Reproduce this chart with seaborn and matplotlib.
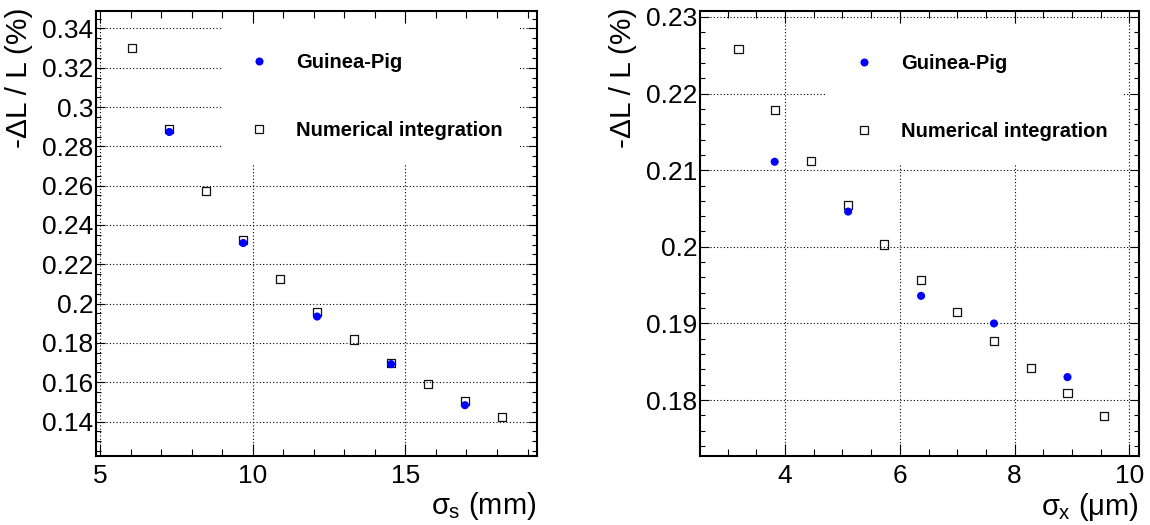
import matplotlib
matplotlib.use("Agg")
import matplotlib.pyplot as plt
from matplotlib.ticker import MultipleLocator, FuncFormatter
from matplotlib.patches import Rectangle
from matplotlib.lines import Line2D
import seaborn as sns
import pandas as pd

# ---------------- data ----------------
sigma_s_num = [6.06, 7.27, 8.48, 9.69, 10.90, 12.11, 13.32, 14.53, 15.74, 16.95, 18.16]
lumi_s_num = [0.3302, 0.2888, 0.2571, 0.2325, 0.2124, 0.1958, 0.1817, 0.1698, 0.1593, 0.1503, 0.1424]
sigma_s_gp = [7.27, 9.69, 12.11, 14.53, 16.95]
lumi_s_gp = [0.2873, 0.2308, 0.1934, 0.1692, 0.1483]

sigma_x_num = [3.19, 3.82, 4.46, 5.10, 5.73, 6.37, 7.00, 7.64, 8.28, 8.92, 9.55]
lumi_x_num = [0.2258, 0.2179, 0.2112, 0.2055, 0.2003, 0.1957, 0.1915, 0.1877, 0.1842, 0.1809, 0.1779]
sigma_x_gp = [3.82, 5.10, 6.37, 7.64, 8.92]
lumi_x_gp = [0.2111, 0.2046, 0.1936, 0.1900, 0.1830]

legend_labels = ["Guinea-Pig", "Numerical integration"]
ylabel_text = "-\u0394L / L (%)"
xlabel_left = r"$\sigma_{\mathrm{s}}$ (mm)"
xlabel_right = r"$\sigma_{\mathrm{x}}$ ($\mathrm{\mu}$m)"

# ---------------- style ----------------
sns.set_style("ticks")
plt.rcParams["font.family"] = ["Liberation Sans", "DejaVu Sans"]
plt.rcParams["mathtext.fontset"] = "custom"
plt.rcParams["mathtext.rm"] = "Liberation Sans"
plt.rcParams["mathtext.it"] = "Liberation Sans"
plt.rcParams["mathtext.bf"] = "Liberation Sans:bold"
plt.rcParams["axes.axisbelow"] = True
for key in ["text.color", "axes.labelcolor", "xtick.color", "ytick.color",
            "xtick.labelcolor", "ytick.labelcolor"]:
    plt.rcParams[key] = "black"

BLUE = "#0000ff"
TICK_FS = 19
XLABEL_FS = 21
YLABEL_FS = 21.5
LEG_FS = 14.5

fig = plt.figure(figsize=(11.5, 5.25), dpi=100)
ax1 = fig.add_axes([0.0835, 0.132, 0.3832, 0.8476])
ax2 = fig.add_axes([0.6087, 0.1314, 0.3817, 0.848])

fmt = FuncFormatter(lambda v, p: f"{v:g}")


def draw_panel(ax, xn, yn, xg, yg, xlim, ylim, xmaj, xmin, ymaj, ymin, xlabel,
               leg_anchor):
    df_n = pd.DataFrame({"x": xn, "y": yn})
    df_g = pd.DataFrame({"x": xg, "y": yg})
    sns.scatterplot(data=df_n, x="x", y="y", ax=ax, marker="s", s=34,
                    color="black", linewidth=0.9, zorder=3)
    ax.collections[-1].set_facecolor("none")
    ax.collections[-1].set_edgecolor("#111111")
    sns.scatterplot(data=df_g, x="x", y="y", ax=ax, marker="o", s=34,
                    color=BLUE, edgecolor="none", linewidth=0, zorder=4)

    ax.set_xlim(*xlim)
    ax.set_ylim(*ylim)
    ax.xaxis.set_major_locator(MultipleLocator(xmaj))
    ax.xaxis.set_minor_locator(MultipleLocator(xmin))
    ax.yaxis.set_major_locator(MultipleLocator(ymaj))
    ax.yaxis.set_minor_locator(MultipleLocator(ymin))
    ax.xaxis.set_major_formatter(fmt)
    ax.yaxis.set_major_formatter(fmt)

    ax.grid(True, which="major", color="black", linestyle=(0, (1, 2)),
            linewidth=0.8)

    ax.tick_params(axis="both", which="both", direction="in", top=True,
                   right=True, colors="black", width=0.8)
    ax.tick_params(axis="x", which="major", length=8.6, labelsize=TICK_FS, pad=6)
    ax.tick_params(axis="x", which="minor", length=4.7)
    ax.tick_params(axis="y", which="major", length=6.5, labelsize=TICK_FS, pad=2)
    ax.tick_params(axis="y", which="minor", length=3.6)
    for sp in ax.spines.values():
        sp.set_linewidth(1.5)
        sp.set_color("black")

    # white legend area (covers grid lines like the ROOT TLegend box)
    ax.add_patch(Rectangle((0.286, 0.6546), 0.677, 0.315, transform=ax.transAxes,
                           facecolor="white", edgecolor="none", zorder=1))

    handles = [
        Line2D([], [], marker="o", linestyle="none", color=BLUE,
               markeredgecolor="none", markersize=5.8),
        Line2D([], [], marker="s", linestyle="none", markerfacecolor="none",
               markeredgecolor="#111111", markeredgewidth=0.9, markersize=5.6),
    ]
    ax.legend(handles, legend_labels, loc="upper left", bbox_to_anchor=leg_anchor,
              frameon=False, borderaxespad=0, borderpad=0, handlelength=2.0,
              handletextpad=0.85, labelspacing=2.42,
              prop={"family": ["Liberation Sans", "DejaVu Sans"],
                    "weight": "bold", "size": LEG_FS})

    ax.set_xlabel(xlabel, fontsize=XLABEL_FS, loc="right")
    ax.xaxis.label.set_va("top")
    ax.xaxis.set_label_coords(1.0, -0.078)
    ax.set_ylabel(ylabel_text, fontsize=YLABEL_FS, loc="top")
    ax.yaxis.set_label_coords(-0.143, 1.008)


draw_panel(ax1, sigma_s_num, lumi_s_num, sigma_s_gp, lumi_s_gp,
           (4.87, 19.30), (0.1226, 0.349), 5, 1, 0.02, 0.005, xlabel_left,
           (0.3245, 0.904))
draw_panel(ax2, sigma_x_num, lumi_x_num, sigma_x_gp, lumi_x_gp,
           (2.52, 10.165), (0.1727, 0.2308), 2, 0.5, 0.01, 0.002, xlabel_right,
           (0.328, 0.902))

fig.savefig("out.png", dpi=100, facecolor="white")
